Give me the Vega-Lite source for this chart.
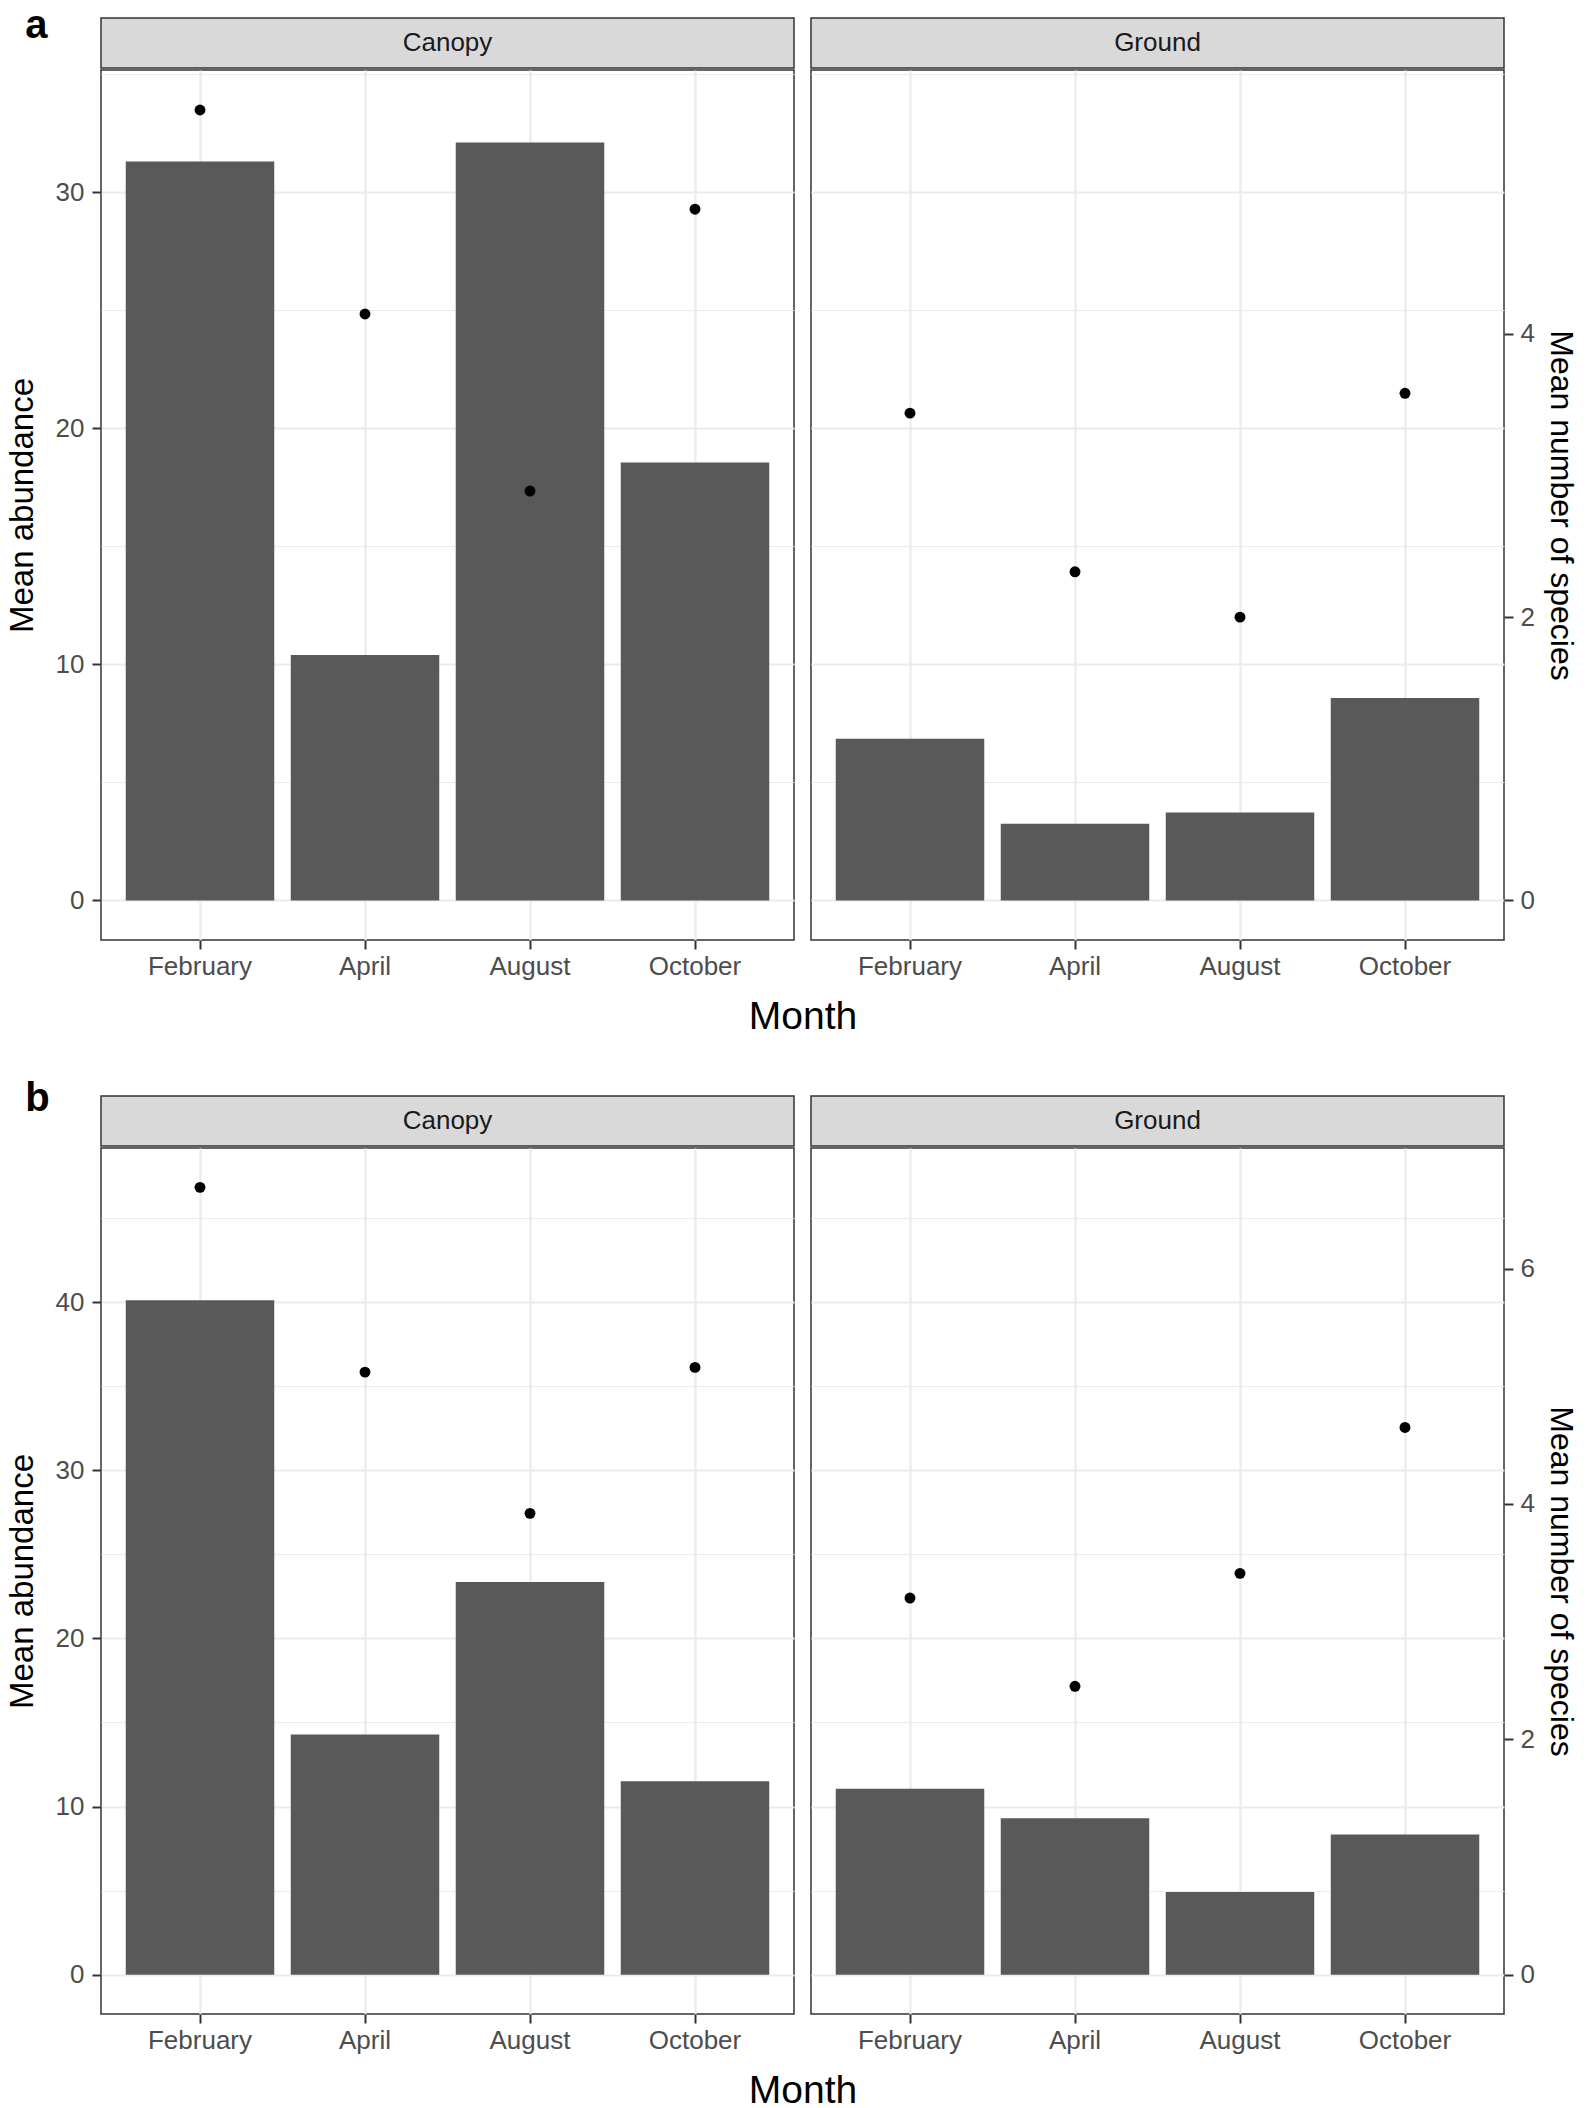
{
  "$schema": "https://vega.github.io/schema/vega-lite/v6.json",
  "background": "white",
  "padding": {"left": 5, "top": 6, "right": 4, "bottom": 0},
  "datasets": {
    "pa": [
      {"location": "Canopy", "month": "February", "abundance": 31.3, "species": 5.58},
      {"location": "Canopy", "month": "April", "abundance": 10.4, "species": 4.14},
      {"location": "Canopy", "month": "August", "abundance": 32.1, "species": 2.89},
      {"location": "Canopy", "month": "October", "abundance": 18.55, "species": 4.88},
      {"location": "Ground", "month": "February", "abundance": 6.85, "species": 3.44},
      {"location": "Ground", "month": "April", "abundance": 3.25, "species": 2.32},
      {"location": "Ground", "month": "August", "abundance": 3.73, "species": 2.0},
      {"location": "Ground", "month": "October", "abundance": 8.58, "species": 3.58}
    ],
    "pb": [
      {"location": "Canopy", "month": "February", "abundance": 40.12, "species": 6.69},
      {"location": "Canopy", "month": "April", "abundance": 14.29, "species": 5.12},
      {"location": "Canopy", "month": "August", "abundance": 23.36, "species": 3.92},
      {"location": "Canopy", "month": "October", "abundance": 11.5, "species": 5.16},
      {"location": "Ground", "month": "February", "abundance": 11.06, "species": 3.2},
      {"location": "Ground", "month": "April", "abundance": 9.3, "species": 2.45},
      {"location": "Ground", "month": "August", "abundance": 4.91, "species": 3.41},
      {"location": "Ground", "month": "October", "abundance": 8.34, "species": 4.65}
    ],
    "strips": [{"location": "Canopy"}, {"location": "Ground"}]
  },
  "config": {
    "font": "Liberation Sans",
    "view": {"stroke": "#333333", "strokeWidth": 1.5},
    "axis": {
      "domain": false,
      "gridColor": "#EBEBEB",
      "gridWidth": 2.2,
      "tickColor": "#333333",
      "tickWidth": 2,
      "tickSize": 9,
      "labelFont": "Liberation Sans",
      "labelFontSize": 26,
      "labelColor": "#4D4D4D",
      "titleFont": "Liberation Sans",
      "titleFontWeight": "normal",
      "titleColor": "#000000"
    },
    "title": {"font": "Liberation Sans"}
  },
  "spacing": 42,
  "vconcat": [
    {
      "title": {"text": "a", "anchor": "start", "fontSize": 40, "fontWeight": "bold", "color": "#000000", "dx": 20, "offset": -29},
      "spacing": 0,
      "vconcat": [
        {
          "spacing": 17,
          "bounds": "flush",
          "hconcat": [
            {"width": 693, "height": 50, "data": {"name": "strips"}, "transform": [{"filter": "datum.location === 'Canopy'"}],
             "view": {"fill": "#D9D9D9", "stroke": "#333333", "strokeWidth": 1.5},
             "mark": {"type": "text", "fontSize": 26, "color": "#1A1A1A"},
             "encoding": {"text": {"field": "location", "type": "nominal"}}},
            {"width": 693, "height": 50, "data": {"name": "strips"}, "transform": [{"filter": "datum.location === 'Ground'"}],
             "view": {"fill": "#D9D9D9", "stroke": "#333333", "strokeWidth": 1.5},
             "mark": {"type": "text", "fontSize": 26, "color": "#1A1A1A"},
             "encoding": {"text": {"field": "location", "type": "nominal"}}}
          ]
        },
        {
          "spacing": 17,
          "bounds": "flush",
          "hconcat": [
            {
              "width": 693, "height": 870,
              "data": {"name": "pa"},
              "transform": [{"filter": "datum.location === 'Canopy'"}],
              "encoding": {
                "x": {"field": "month", "type": "nominal", "sort": ["February", "April", "August", "October"],
                      "scale": {"paddingInner": 0.1, "paddingOuter": 0.15},
                      "axis": {"labelAngle": 0, "grid": true, "labelPadding": 4, "title": "Month", "titleFontSize": 39, "titleX": 701.5, "titlePadding": 18}}
              },
              "layer": [
                {"mark": {"type": "bar", "color": "#595959"},
                 "encoding": {"y": {"field": "abundance", "type": "quantitative",
                   "scale": {"domain": [-1.675, 35.175], "nice": false, "zero": false},
                   "axis": {"title": "Mean abundance", "titleFontSize": 33, "titlePadding": 16, "labelPadding": 8,
                            "values": [0, 5, 10, 15, 20, 25, 30, 35],
                            "labelExpr": "datum.value % 10 === 0 ? datum.label : ''",
                            "tickOpacity": {"condition": {"test": "datum.value % 10 === 0", "value": 1}, "value": 0},
                            "gridWidth": {"condition": {"test": "datum.value % 10 === 0", "value": 2.2}, "value": 1.2}}}}},
                {"mark": {"type": "circle", "color": "#000000", "size": 119, "opacity": 1},
                 "encoding": {"y": {"field": "species", "type": "quantitative",
                   "scale": {"domain": [-0.279167, 5.8625], "nice": false, "zero": false}, "axis": null}}}
              ],
              "resolve": {"scale": {"y": "independent"}}
            },
            {
              "width": 693, "height": 870,
              "data": {"name": "pa"},
              "transform": [{"filter": "datum.location === 'Ground'"}],
              "encoding": {
                "x": {"field": "month", "type": "nominal", "sort": ["February", "April", "August", "October"],
                      "scale": {"paddingInner": 0.1, "paddingOuter": 0.15},
                      "axis": {"labelAngle": 0, "grid": true, "labelPadding": 4, "title": null}}
              },
              "layer": [
                {"mark": {"type": "bar", "color": "#595959"},
                 "encoding": {"y": {"field": "abundance", "type": "quantitative",
                   "scale": {"domain": [-1.675, 35.175], "nice": false, "zero": false},
                   "axis": {"title": null, "labels": false, "ticks": false,
                            "values": [0, 5, 10, 15, 20, 25, 30, 35],
                            "gridWidth": {"condition": {"test": "datum.value % 10 === 0", "value": 2.2}, "value": 1.2}}}}},
                {"mark": {"type": "circle", "color": "#000000", "size": 119, "opacity": 1},
                 "encoding": {"y": {"field": "species", "type": "quantitative",
                   "scale": {"domain": [-0.279167, 5.8625], "nice": false, "zero": false},
                   "axis": {"orient": "right", "grid": false, "values": [0, 2, 4], "labelPadding": 7,
                            "title": "Mean number of species", "titleFontSize": 32, "titleAngle": 90, "titlePadding": 9}}}}
              ],
              "resolve": {"scale": {"y": "independent"}}
            }
          ]
        }
      ]
    },
    {
      "title": {"text": "b", "anchor": "start", "fontSize": 40, "fontWeight": "bold", "color": "#000000", "dx": 20, "offset": -24},
      "spacing": 0,
      "vconcat": [
        {
          "spacing": 17,
          "bounds": "flush",
          "hconcat": [
            {"width": 693, "height": 50, "data": {"name": "strips"}, "transform": [{"filter": "datum.location === 'Canopy'"}],
             "view": {"fill": "#D9D9D9", "stroke": "#333333", "strokeWidth": 1.5},
             "mark": {"type": "text", "fontSize": 26, "color": "#1A1A1A"},
             "encoding": {"text": {"field": "location", "type": "nominal"}}},
            {"width": 693, "height": 50, "data": {"name": "strips"}, "transform": [{"filter": "datum.location === 'Ground'"}],
             "view": {"fill": "#D9D9D9", "stroke": "#333333", "strokeWidth": 1.5},
             "mark": {"type": "text", "fontSize": 26, "color": "#1A1A1A"},
             "encoding": {"text": {"field": "location", "type": "nominal"}}}
          ]
        },
        {
          "spacing": 17,
          "bounds": "flush",
          "hconcat": [
            {
              "width": 693, "height": 866,
              "data": {"name": "pb"},
              "transform": [{"filter": "datum.location === 'Canopy'"}],
              "encoding": {
                "x": {"field": "month", "type": "nominal", "sort": ["February", "April", "August", "October"],
                      "scale": {"paddingInner": 0.1, "paddingOuter": 0.15},
                      "axis": {"labelAngle": 0, "grid": true, "labelPadding": 4, "title": "Month", "titleFontSize": 39, "titleX": 701.5, "titlePadding": 18}}
              },
              "layer": [
                {"mark": {"type": "bar", "color": "#595959"},
                 "encoding": {"y": {"field": "abundance", "type": "quantitative",
                   "scale": {"domain": [-2.3415, 49.1715], "nice": false, "zero": false},
                   "axis": {"title": "Mean abundance", "titleFontSize": 33, "titlePadding": 16, "labelPadding": 8,
                            "values": [0, 5, 10, 15, 20, 25, 30, 35, 40, 45],
                            "labelExpr": "datum.value % 10 === 0 ? datum.label : ''",
                            "tickOpacity": {"condition": {"test": "datum.value % 10 === 0", "value": 1}, "value": 0},
                            "gridWidth": {"condition": {"test": "datum.value % 10 === 0", "value": 2.2}, "value": 1.2}}}}},
                {"mark": {"type": "circle", "color": "#000000", "size": 119, "opacity": 1},
                 "encoding": {"y": {"field": "species", "type": "quantitative",
                   "scale": {"domain": [-0.3345, 7.0245], "nice": false, "zero": false}, "axis": null}}}
              ],
              "resolve": {"scale": {"y": "independent"}}
            },
            {
              "width": 693, "height": 866,
              "data": {"name": "pb"},
              "transform": [{"filter": "datum.location === 'Ground'"}],
              "encoding": {
                "x": {"field": "month", "type": "nominal", "sort": ["February", "April", "August", "October"],
                      "scale": {"paddingInner": 0.1, "paddingOuter": 0.15},
                      "axis": {"labelAngle": 0, "grid": true, "labelPadding": 4, "title": null}}
              },
              "layer": [
                {"mark": {"type": "bar", "color": "#595959"},
                 "encoding": {"y": {"field": "abundance", "type": "quantitative",
                   "scale": {"domain": [-2.3415, 49.1715], "nice": false, "zero": false},
                   "axis": {"title": null, "labels": false, "ticks": false,
                            "values": [0, 5, 10, 15, 20, 25, 30, 35, 40, 45],
                            "gridWidth": {"condition": {"test": "datum.value % 10 === 0", "value": 2.2}, "value": 1.2}}}}},
                {"mark": {"type": "circle", "color": "#000000", "size": 119, "opacity": 1},
                 "encoding": {"y": {"field": "species", "type": "quantitative",
                   "scale": {"domain": [-0.3345, 7.0245], "nice": false, "zero": false},
                   "axis": {"orient": "right", "grid": false, "values": [0, 2, 4, 6], "labelPadding": 7,
                            "title": "Mean number of species", "titleFontSize": 32, "titleAngle": 90, "titlePadding": 9}}}}
              ],
              "resolve": {"scale": {"y": "independent"}}
            }
          ]
        }
      ]
    }
  ]
}
